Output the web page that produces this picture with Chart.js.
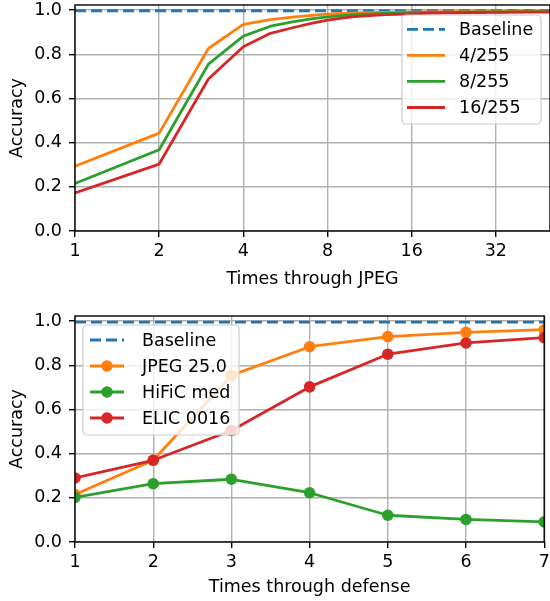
<!DOCTYPE html>
<html>
<head>
<meta charset="utf-8">
<script src="https://cdn.jsdelivr.net/npm/chart.js@4.4.0/dist/chart.umd.min.js"></script>
<style>
    html, body { margin: 0; padding: 0; background: #fff; }
    canvas { position: absolute; left: 0; }
    #top { top: 0; }
    #bottom { top: 300px; }
</style>
</head>
<body>
<canvas id="top" width="550" height="300"></canvas>
<canvas id="bottom" width="550" height="301"></canvas>
<script>
// top plot: accuracy vs times through JPEG
var jpegTimes = [1, 2, 3, 4, 5, 6, 7, 8, 9, 10, 11, 12, 13, 14, 15, 16, 17, 18, 19, 20,
    21, 22, 23, 24, 25, 26, 27, 28, 29, 30, 31, 32, 33, 34, 35, 36, 37, 38, 39, 40,
    41, 42, 43, 44, 45, 46, 47, 48, 49, 50]
var acc4 = [0.293, 0.443, 0.826, 0.935, 0.957, 0.968, 0.976, 0.982, 0.985, 0.987, 0.988, 0.989, 0.990, 0.990, 0.991, 0.991, 0.991, 0.992, 0.992, 0.992,
    0.992, 0.992, 0.993, 0.993, 0.993, 0.993, 0.993, 0.993, 0.993, 0.993, 0.993, 0.994, 0.993, 0.994, 0.994, 0.994, 0.994, 0.994, 0.994, 0.994,
    0.994, 0.994, 0.994, 0.994, 0.994, 0.994, 0.994, 0.994, 0.994, 0.994]
var acc8 = [0.215, 0.368, 0.755, 0.882, 0.927, 0.947, 0.960, 0.969, 0.975, 0.979, 0.982, 0.984, 0.985, 0.986, 0.987, 0.988, 0.988, 0.989, 0.989, 0.990,
    0.990, 0.990, 0.990, 0.991, 0.991, 0.991, 0.991, 0.991, 0.991, 0.992, 0.992, 0.992, 0.992, 0.992, 0.992, 0.992, 0.992, 0.992, 0.992, 0.992,
    0.993, 0.993, 0.993, 0.993, 0.993, 0.993, 0.993, 0.993, 0.993, 0.993]
var acc16 = [0.172, 0.303, 0.688, 0.834, 0.895, 0.920, 0.940, 0.955, 0.964, 0.970, 0.974, 0.977, 0.979, 0.981, 0.982, 0.983, 0.984, 0.985, 0.986, 0.986,
    0.987, 0.987, 0.988, 0.988, 0.988, 0.989, 0.989, 0.989, 0.989, 0.990, 0.990, 0.990, 0.990, 0.990, 0.990, 0.991, 0.991, 0.991, 0.991, 0.991,
    0.991, 0.991, 0.991, 0.991, 0.991, 0.991, 0.991, 0.991, 0.991, 0.991]
var baselineTop = 0.997
var jpegTicks = [1, 2, 4, 8, 16, 32]

// bottom plot: accuracy vs times through defense
var defenseTimes = [1, 2, 3, 4, 5, 6, 7]
var accJpeg25 = [0.215, 0.370, 0.754, 0.884, 0.930, 0.949, 0.961]
var accHific = [0.202, 0.264, 0.284, 0.223, 0.121, 0.102, 0.091]
var accElic = [0.290, 0.370, 0.505, 0.702, 0.850, 0.901, 0.925]
var baselineBottom = 0.995
var defenseTicks = [1, 2, 3, 4, 5, 6, 7]

var accTicks = [0, 0.2, 0.4, 0.6, 0.8, 1.0]

var BLUE = '#1f77b4', ORANGE = '#ff7f0e', GREEN = '#2ca02c', RED = '#d62728'
var FONT = { family: 'DejaVu Sans', size: 17.5 }
var LW = 2.8

Chart.defaults.color = '#000'
Chart.defaults.font.family = 'DejaVu Sans'

function pts(xs, ys) {
    return xs.map(function (x, i) { return { x: x, y: ys[i] } })
}

// spines on top of the lines, like matplotlib
var frame = {
    id: 'frame',
    afterDatasetsDraw: function (chart) {
        var a = chart.chartArea, ctx = chart.ctx
        ctx.save()
        ctx.strokeStyle = '#000'
        ctx.lineWidth = 1.4
        ctx.strokeRect(a.left, a.top, a.right - a.left, a.bottom - a.top)
        ctx.restore()
    }
}

// matplotlib style legend box inside the axes
var boxLegend = {
    id: 'boxLegend',
    afterDraw: function (chart, args, o) {
        var ctx = chart.ctx
        ctx.save()
        ctx.beginPath()
        ctx.roundRect(o.x, o.y, o.w, o.h, 4)
        ctx.fillStyle = 'rgba(255,255,255,0.8)'
        ctx.fill()
        ctx.strokeStyle = '#cccccc'
        ctx.lineWidth = 1.2
        ctx.stroke()
        chart.data.datasets.forEach(function (ds, i) {
            var y = o.rows[i]
            ctx.strokeStyle = ds.borderColor
            ctx.lineWidth = ds.borderWidth
            ctx.setLineDash(ds.borderDash || [])
            ctx.beginPath()
            ctx.moveTo(o.h0, y)
            ctx.lineTo(o.h1, y)
            ctx.stroke()
            ctx.setLineDash([])
            if (ds.pointRadius > 0) {
                ctx.fillStyle = ds.borderColor
                ctx.beginPath()
                ctx.arc((o.h0 + o.h1) / 2, y, ds.pointRadius, 0, Math.PI * 2)
                ctx.fill()
            }
            ctx.fillStyle = '#000'
            ctx.font = FONT.size + 'px "DejaVu Sans"'
            ctx.textAlign = 'left'
            ctx.textBaseline = 'middle'
            ctx.fillText(ds.label, o.tx, y + 1)
        })
        ctx.restore()
    }
}

function lineSet(label, data, color, radius, order) {
    return {
        label: label, data: data, borderColor: color, backgroundColor: color,
        borderWidth: LW, pointRadius: radius, pointBorderWidth: 0,
        pointHoverRadius: radius, tension: 0, borderJoinStyle: 'round',
        clip: 0, order: order
    }
}

var gridOpts = { color: '#b0b0b0', lineWidth: 1.4, tickColor: '#000', tickWidth: 1.4, tickLength: 6 }

function yAxis() {
    return {
        type: 'linear', min: 0, max: 1.023,
        afterFit: function (s) {
            s.width = 75
            s.paddingTop = 0
            s.paddingBottom = 0
        },
        afterBuildTicks: function (s) { s.ticks = accTicks.map(function (v) { return { value: v } }) },
        ticks: { font: FONT, padding: 7, callback: function (v) { return v.toFixed(1) } },
        grid: gridOpts,
        border: { display: false },
        title: { display: true, text: 'Accuracy', font: FONT, padding: { top: 6.5, bottom: 0 } }
    }
}

function xAxis(h) {
    return function (s) {
        s.height = h
        s.paddingLeft = 0
        s.paddingRight = 0
    }
}

var baseOpts = {
    responsive: false,
    animation: false,
    events: []
}

var dashed = [11, 5]

var baseTop = lineSet('Baseline', pts([1, 50], [baselineTop, baselineTop]), BLUE, 0, 0)
baseTop.borderDash = dashed

new Chart(document.getElementById('top'), {
    type: 'line',
    data: {
        datasets: [
            baseTop,
            lineSet('4/255', pts(jpegTimes, acc4), ORANGE, 0, -1),
            lineSet('8/255', pts(jpegTimes, acc8), GREEN, 0, -2),
            lineSet('16/255', pts(jpegTimes, acc16), RED, 0, -3)
        ]
    },
    options: Object.assign({}, baseOpts, {
        layout: { padding: { top: 5, right: 0, left: 0, bottom: 0 } },
        scales: {
            x: {
                type: 'logarithmic', min: 1, max: 50,
                afterFit: xAxis(69),
                afterBuildTicks: function (s) { s.ticks = jpegTicks.map(function (v) { return { value: v } }) },
                ticks: { font: FONT, padding: 4, maxRotation: 0, autoSkip: false, callback: function (v) { return String(v) } },
                grid: gridOpts,
                border: { display: false },
                title: { display: true, text: 'Times through JPEG', font: FONT, padding: { top: 0, bottom: 10.5 } }
            },
            y: yAxis()
        },
        plugins: {
            legend: { display: false },
            tooltip: { enabled: false },
            boxLegend: { x: 402, y: 15, w: 139, h: 109, rows: [29.3, 55.3, 81.3, 107.5], h0: 407, h1: 445, tx: 459 }
        }
    }),
    plugins: [frame, boxLegend]
})

var baseBottom = lineSet('Baseline', pts([1, 7], [baselineBottom, baselineBottom]), BLUE, 0, 0)
baseBottom.borderDash = dashed

new Chart(document.getElementById('bottom'), {
    type: 'line',
    data: {
        datasets: [
            baseBottom,
            lineSet('JPEG 25.0', pts(defenseTimes, accJpeg25), ORANGE, 5.8, -1),
            lineSet('HiFiC med', pts(defenseTimes, accHific), GREEN, 5.8, -2),
            lineSet('ELIC 0016', pts(defenseTimes, accElic), RED, 5.8, -3)
        ]
    },
    options: Object.assign({}, baseOpts, {
        layout: { padding: { top: 16, right: 5, left: 0, bottom: 0 } },
        scales: {
            x: {
                type: 'linear', min: 1, max: 7,
                afterFit: xAxis(59),
                afterBuildTicks: function (s) { s.ticks = defenseTicks.map(function (v) { return { value: v } }) },
                ticks: { font: FONT, padding: 4, maxRotation: 0, autoSkip: false, callback: function (v) { return String(v) } },
                grid: gridOpts,
                border: { display: false },
                title: { display: true, text: 'Times through defense', font: FONT, padding: { top: 0, bottom: 3 } }
            },
            y: yAxis()
        },
        plugins: {
            legend: { display: false },
            tooltip: { enabled: false },
            boxLegend: { x: 83, y: 25, w: 156, h: 110, rows: [40, 66, 92, 118], h0: 90, h1: 124, tx: 142 }
        }
    }),
    plugins: [frame, boxLegend]
})
</script>
</body>
</html>
